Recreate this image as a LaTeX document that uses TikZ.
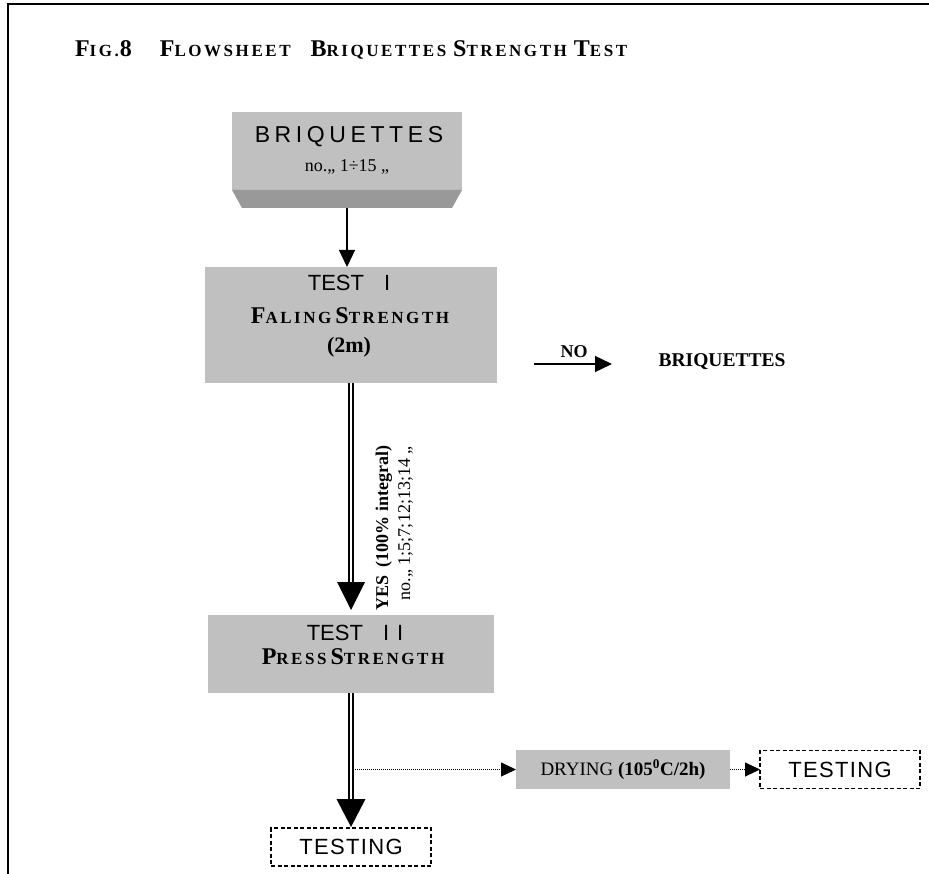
\documentclass[tikz,border=0pt]{standalone}
\usepackage{fontspec}
\setmainfont{Liberation Serif}
\newfontfamily\sansf{Liberation Sans}
\newfontfamily\sanswide{Liberation Sans}[LetterSpace=20]
\newfontfamily\sanstest{Liberation Sans}[LetterSpace=6]
\newfontfamily\serifwide{Liberation Serif}[LetterSpace=15]
\usetikzlibrary{calc,arrows.meta}
\definecolor{boxgray}{HTML}{C0C0C0}
\definecolor{edgegray}{HTML}{999999}
\newcommand\setfs[1]{\fontsize{#1}{#1}\selectfont}
% fake small capitals: large initial, smaller capitals after it
\newcommand\capsc[2]{{\setfs{24pt}#1}{\setfs{17pt}#2}}
\tikzset{
  greybox/.style={fill=boxgray, draw=none},
  dashbox/.style={draw, line width=1.1pt, dash pattern=on 4pt off 2.5pt,
    minimum width=160pt, minimum height=38pt},
  thinarrow/.style={line width=1.2pt, -{Triangle[length=17pt,width=16pt]}},
  dotarrow/.style={line width=0.9pt, dash pattern=on 1pt off 1pt,
    -{Triangle[length=15pt,width=14pt]}},
  twinline/.style={double=white, line width=2.2pt, double distance=2pt},
}
\begin{document}
\begin{tikzpicture}[x=1pt,y=-1pt, every node/.style={inner sep=0pt, outer sep=0pt}]
\useasboundingbox (0,0) rectangle (929,874);
% page frame
\draw[line width=2.2pt] (8,874) -- (8,4) -- (929,4);

% heading
\node[anchor=base west] (title) at (75,57) {\serifwide\bfseries
  \capsc{F}{IG.}\hspace{1pt}{\setfs{24pt}8}\hspace{28pt}\capsc{F}{LOWSHEET}\hspace{20pt}%
  \capsc{B}{RIQUETTES}\hspace{7pt}\capsc{S}{TRENGTH}\hspace{7pt}\capsc{T}{EST}};

% source block with bevelled base
\node[greybox, minimum width=230pt, minimum height=78pt] (brq) at (347,151) {};
\fill[edgegray] (brq.south west) -- (brq.south east) -- ($(brq.south east)+(-10,18)$)
  -- ($(brq.south west)+(10,18)$) -- cycle;
\coordinate (brqbase) at ($(brq.south)+(0,18)$);
\node[anchor=base] (brqname) at (349,143) {\sanswide\setfs{23pt}BRIQUETTES};
\node[anchor=base] (brqno) at (347,172) {\setfs{18pt}no.,, 1÷15 ,,};

% test I
\node[greybox, minimum width=292pt, minimum height=116pt] (t1) at (351,325) {};
\node[anchor=base] (t1a) at (349,291) {\sansf\setfs{22pt}TEST\hspace{20pt}I};
\node[anchor=base] (t1b) at (350,324) {\serifwide\bfseries\capsc{F}{ALING}\hspace{4pt}\capsc{S}{TRENGTH}};
\node[anchor=base] (t1c) at (349,353) {\bfseries\setfs{22pt}(2m)};

\draw[thinarrow] (brqbase) -- (brqbase |- t1.north);

% rejected branch
\coordinate (nofrom) at (534,364);
\coordinate (noto) at (612,364);
\draw[thinarrow] (nofrom) -- (noto);
\node[anchor=base] (nolab) at (574,358) {\bfseries\setfs{18pt}NO};
\node[anchor=base] (brqout) at (722,367) {\bfseries\setfs{19.5pt}BRIQUETTES};

% test II
\node[greybox, minimum width=286pt, minimum height=78pt] (t2) at (351,654) {};
\node[anchor=base] (t2a) at (355,640) {\sansf\setfs{22pt}TEST\hspace{20pt}I\hspace{8pt}I};
\node[anchor=base] (t2b) at (353,664) {\serifwide\bfseries\capsc{P}{RESS}\hspace{4pt}\capsc{S}{TRENGTH}};

% accepted path from test I to test II
\coordinate (tip1) at ($(t2.north)+(0,-5)$);
\draw[twinline] (t1.south) -- ($(tip1)+(0,-28)$);
\fill ($(tip1)+(-14,-28)$) -- ($(tip1)+(14,-28)$) -- (tip1) -- cycle;
\node[anchor=base west, rotate=90] (yes) at (388,610)
  {\bfseries\setfs{18pt}YES\hspace{8pt}(100\% integral)};
\node[anchor=base west, rotate=90] (yesno) at (410,600)
  {\setfs{18pt}no.,, 1;5;7;12;13;14 ,,};

% drying and final testing
\node[greybox, minimum width=214pt, minimum height=39pt] (dry) at (623,769.5)
  {\setfs{19pt}DRYING \textbf{(105\textsuperscript{0}C/2h)}};
\node[dashbox] (tr) at (840,769.5) {\sanstest\setfs{22pt}TESTING};
\node[dashbox] (tb) at (351,847) {\sanstest\setfs{22pt}TESTING};

\coordinate (branch) at (t2.south |- dry.west);
\draw[dotarrow] (branch) -- (dry.west);
\draw[dotarrow] (dry.east) -- (tr.west);

\coordinate (tip2) at ($(tb.north)+(0,-1)$);
\draw[twinline] (t2.south) -- ($(tip2)+(0,-28)$);
\fill ($(tip2)+(-14.5,-28)$) -- ($(tip2)+(14.5,-28)$) -- (tip2) -- cycle;
\end{tikzpicture}
\end{document}
